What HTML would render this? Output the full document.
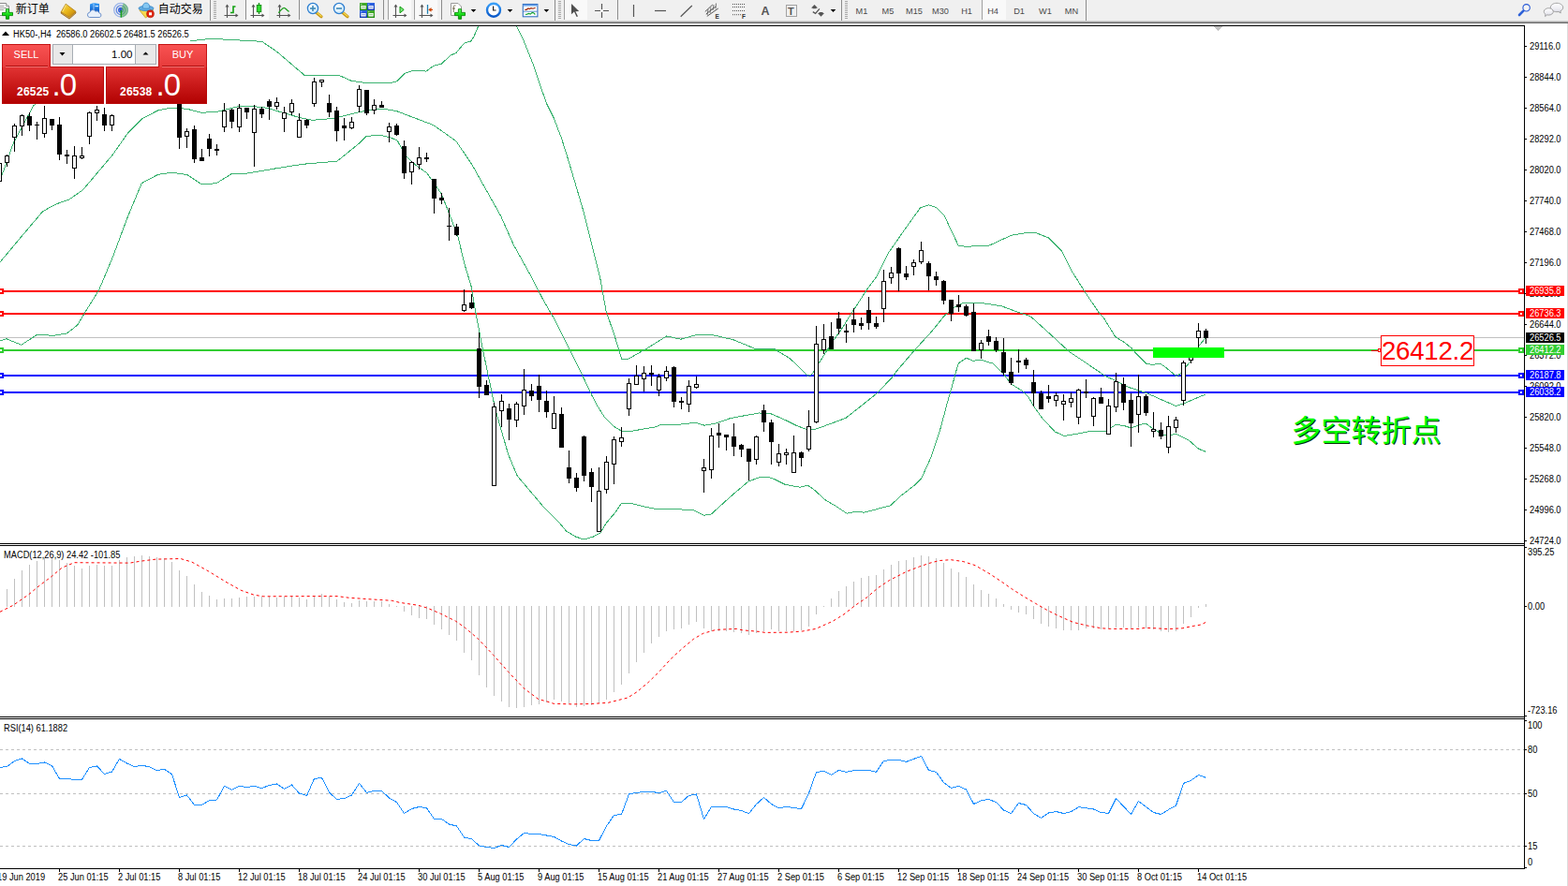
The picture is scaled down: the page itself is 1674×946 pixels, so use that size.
<!DOCTYPE html>
<html><head><meta charset="utf-8"><title>HK50-,H4</title>
<style>
html,body{margin:0;padding:0;background:#fff;}
body{width:1674px;height:946px;position:relative;overflow:hidden;font-family:"Liberation Sans",sans-serif;}
#tb{position:absolute;left:0;top:0;width:1674px;height:25px;background:#f0f0f0;}
#tb .g1,#tb .g2,#tb .g3{position:absolute;left:0;width:100%;height:1px;}
#tb .g1{top:22px;background:#d0d0d0} #tb .g2{top:23px;background:#a0a0a0} #tb .g3{top:24px;background:#696969}
#rb{position:absolute;left:1673px;top:25px;width:1px;height:921px;background:#dcdcdc}
</style></head><body>
<svg width="1674" height="946" viewBox="0 0 1674 946" style="position:absolute;left:0;top:0"><g shape-rendering="crispEdges"><rect x="0" y="310" width="1627" height="2" fill="#ff0000"/><rect x="0" y="334" width="1627" height="2" fill="#ff0000"/><rect x="0" y="360" width="1627" height="1" fill="#c0c0c0"/><rect x="0" y="373" width="1627" height="2" fill="#32cd32"/><rect x="0" y="400" width="1627" height="2" fill="#0000ff"/><rect x="0" y="418" width="1627" height="2" fill="#0000ff"/><polyline points="0.0,192.8 14.3,152.8 35.7,112.9 60.0,95.0 100.0,75.0 150.0,55.0 190.0,46.0 204.2,43.7 225.0,41.3 279.7,44.3 296.0,55.5 325.5,80.7 327.6,80.0 361.0,80.0 375.6,86.5 391.3,88.5 400.0,88.6 418.6,88.2 423.7,86.9 432.1,78.4 438.9,76.0 450.7,75.4 455.0,76.2 462.6,70.3 471.0,68.3 481.2,59.0 487.1,56.4 495.5,46.3 503.1,43.8 506.5,37.8 510.8,27.7" fill="none" stroke="#3cb371" stroke-width="1" /><polyline points="551.3,27.7 558.9,42.9 569.1,68.3 577.5,93.6 584.3,112.2 591.1,125.8 599.5,147.7 606.5,170.0 623.0,225.8 640.7,296.8 647.1,332.3 655.9,357.7 663.5,383.0 671.2,383.0 691.4,371.6 711.7,358.9 726.9,362.2 744.7,357.2 758.7,357.2 782.7,362.7 805.6,372.1 825.9,372.1 843.6,383.0 862.6,401.3 866.8,399.7 873.6,388.7 888.8,365.0 900.0,349.2 905.8,339.6 925.2,309.7 936.0,295.3 948.5,270.1 964.7,246.7 982.7,221.6 991.7,218.9 998.9,221.2 1007.9,229.7 1015.0,244.9 1023.1,262.0 1031.2,263.3 1056.4,262.0 1079.8,251.2 1097.7,248.2 1106.7,248.9 1119.3,253.9 1133.7,268.3 1144.5,289.9 1157.0,309.7 1173.2,333.9 1178.7,340.0 1190.6,359.5 1200.1,365.4 1208.6,372.2 1212.0,376.4 1223.8,388.3 1229.7,389.4 1239.0,388.3 1245.8,393.3 1256.0,401.8 1261.0,398.4 1266.1,391.6 1271.2,385.7 1279.6,369.7 1286.7,361.2" fill="none" stroke="#3cb371" stroke-width="1" /><polyline points="0.0,279.9 22.8,252.7 45.7,225.6 60.0,217.9 74.2,212.8 88.5,202.8 119.9,165.7 137.0,141.4 151.3,127.1 168.4,118.0 182.7,115.1 199.8,116.3 215.2,120.3 231.0,119.4 239.5,117.4 254.7,113.7 279.6,114.1 287.5,116.1 303.3,120.7 319.0,125.3 333.5,128.3 355.9,126.4 382.1,120.0 395.0,117.3 410.0,116.2 424.0,118.8 443.8,126.4 462.4,133.4 486.9,150.6 504.3,176.4 519.5,203.7 534.7,230.7 548.2,261.2 565.1,291.6 580.0,320.3 591.4,340.0 607.5,372.3 620.7,398.5 631.4,421.2 636.8,431.8 645.3,445.4 655.0,455.0 663.9,460.6 674.0,460.3 700.0,455.8 705.9,453.2 725.6,453.2 742.4,451.3 752.2,454.2 763.1,452.2 778.9,446.9 794.6,443.8 810.4,441.0 822.2,441.4 838.0,448.3 849.8,454.2 861.6,458.7 869.5,458.7 887.3,452.2 903.0,446.3 916.8,435.5 936.5,419.7 953.3,402.0 956.5,397.1 976.8,373.4 995.4,353.1 1007.9,337.5 1019.5,327.6 1027.6,323.7 1049.2,323.7 1069.0,326.7 1087.0,333.4 1099.5,337.5 1102.6,340.0 1119.5,355.2 1141.5,375.5 1161.8,389.1 1180.4,401.8 1190.0,406.0 1205.2,413.6 1223.8,419.5 1239.0,426.3 1255.1,433.4 1262.7,431.4 1274.5,426.3 1286.7,421.2" fill="none" stroke="#3cb371" stroke-width="1" /><polyline points="0.0,364.0 7.0,361.8 22.8,368.3 40.0,357.0 57.0,358.4 71.4,356.0 82.8,347.0 91.3,332.7 105.6,309.8 119.9,275.6 137.0,229.9 151.3,195.6 168.4,186.5 182.7,184.2 199.8,186.5 215.5,197.0 231.2,195.6 247.4,185.5 263.9,185.1 294.1,179.9 323.0,175.3 359.8,172.2 382.1,154.2 391.3,145.3 406.6,144.4 416.0,146.7 424.0,149.7 429.3,159.5 434.0,167.1 443.8,176.4 455.5,184.5 462.0,193.5 471.3,207.0 480.6,230.7 489.0,252.7 495.8,281.5 503.4,306.8 507.6,332.2 509.0,340.0 515.5,373.5 521.5,402.1 527.5,430.8 530.2,442.0 542.9,486.0 552.2,508.0 579.3,540.1 595.4,556.2 604.7,567.2 614.8,573.1 623.3,576.0 633.4,573.1 641.0,568.9 647.0,558.7 657.1,546.9 663.6,537.3 673.2,537.3 687.6,541.0 700.0,543.3 739.4,544.3 751.3,550.2 759.1,549.2 778.9,531.1 798.6,514.3 810.4,509.8 818.3,509.0 826.2,511.4 838.0,517.3 853.8,520.2 862.6,518.3 869.5,523.2 881.4,534.0 893.2,540.9 904.0,548.2 912.9,546.3 922.7,547.2 936.5,543.5 950.3,540.0 962.2,529.1 976.0,518.3 983.9,510.4 993.7,488.7 1003.6,459.1 1011.5,429.6 1019.3,402.0 1020.0,398.8 1023.4,387.8 1031.8,382.2 1038.6,385.3 1047.6,384.3 1060.3,388.2 1070.5,398.4 1079.8,410.2 1090.8,417.0 1098.4,424.6 1104.3,434.8 1112.8,446.6 1126.3,461.0 1136.4,465.5 1148.3,463.5 1163.5,460.6 1180.4,460.6 1190.6,453.7 1199.1,454.2 1207.8,457.1 1215.4,453.9 1223.0,452.0 1230.6,457.6 1242.4,464.4 1249.2,465.2 1255.1,463.0 1269.5,470.3 1279.6,479.2 1286.7,482.1" fill="none" stroke="#3cb371" stroke-width="1" /><rect x="-1" y="172" width="1" height="23" fill="#000"/><rect x="-3" y="174" width="5" height="20" fill="#000"/><rect x="-2" y="175" width="3" height="18" fill="#fff"/><rect x="7" y="165" width="1" height="13" fill="#000"/><rect x="5" y="166" width="5" height="8" fill="#000"/><rect x="6" y="167" width="3" height="6" fill="#fff"/><rect x="15" y="132" width="1" height="30" fill="#000"/><rect x="13" y="134" width="5" height="13" fill="#000"/><rect x="14" y="135" width="3" height="11" fill="#fff"/><rect x="23" y="122" width="1" height="23" fill="#000"/><rect x="21" y="123" width="5" height="12" fill="#000"/><rect x="22" y="124" width="3" height="10" fill="#fff"/><rect x="31" y="120" width="1" height="20" fill="#000"/><rect x="29" y="124" width="5" height="10" fill="#000"/><rect x="39" y="130" width="1" height="19" fill="#000"/><rect x="37" y="133" width="5" height="1" fill="#000"/><rect x="47" y="113" width="1" height="34" fill="#000"/><rect x="45" y="126" width="5" height="17" fill="#000"/><rect x="46" y="127" width="3" height="15" fill="#fff"/><rect x="55" y="127" width="1" height="12" fill="#000"/><rect x="53" y="127" width="5" height="7" fill="#000"/><rect x="63" y="125" width="1" height="46" fill="#000"/><rect x="61" y="133" width="5" height="32" fill="#000"/><rect x="71" y="160" width="1" height="15" fill="#000"/><rect x="69" y="165" width="5" height="2" fill="#000"/><rect x="79" y="156" width="1" height="35" fill="#000"/><rect x="77" y="166" width="5" height="14" fill="#000"/><rect x="78" y="167" width="3" height="12" fill="#fff"/><rect x="87" y="157" width="1" height="13" fill="#000"/><rect x="85" y="166" width="5" height="3" fill="#000"/><rect x="86" y="167" width="3" height="1" fill="#fff"/><rect x="95" y="119" width="1" height="35" fill="#000"/><rect x="93" y="120" width="5" height="26" fill="#000"/><rect x="94" y="121" width="3" height="24" fill="#fff"/><rect x="103" y="113" width="1" height="16" fill="#000"/><rect x="101" y="117" width="5" height="4" fill="#000"/><rect x="102" y="118" width="3" height="2" fill="#fff"/><rect x="111" y="115" width="1" height="25" fill="#000"/><rect x="109" y="122" width="5" height="12" fill="#000"/><rect x="119" y="122" width="1" height="18" fill="#000"/><rect x="117" y="123" width="5" height="11" fill="#000"/><rect x="118" y="124" width="3" height="9" fill="#fff"/><rect x="191" y="104" width="1" height="55" fill="#000"/><rect x="189" y="107" width="5" height="40" fill="#000"/><rect x="199" y="137" width="1" height="21" fill="#000"/><rect x="197" y="140" width="5" height="6" fill="#000"/><rect x="198" y="141" width="3" height="4" fill="#fff"/><rect x="207" y="134" width="1" height="40" fill="#000"/><rect x="205" y="138" width="5" height="32" fill="#000"/><rect x="215" y="159" width="1" height="13" fill="#000"/><rect x="213" y="168" width="5" height="4" fill="#000"/><rect x="223" y="143" width="1" height="24" fill="#000"/><rect x="221" y="148" width="5" height="11" fill="#000"/><rect x="231" y="154" width="1" height="12" fill="#000"/><rect x="229" y="159" width="5" height="2" fill="#000"/><rect x="239" y="110" width="1" height="31" fill="#000"/><rect x="237" y="118" width="5" height="18" fill="#000"/><rect x="238" y="119" width="3" height="16" fill="#fff"/><rect x="247" y="116" width="1" height="21" fill="#000"/><rect x="245" y="117" width="5" height="13" fill="#000"/><rect x="255" y="111" width="1" height="30" fill="#000"/><rect x="253" y="115" width="5" height="21" fill="#000"/><rect x="254" y="116" width="3" height="19" fill="#fff"/><rect x="263" y="115" width="1" height="12" fill="#000"/><rect x="261" y="115" width="5" height="5" fill="#000"/><rect x="271" y="112" width="1" height="66" fill="#000"/><rect x="269" y="116" width="5" height="26" fill="#000"/><rect x="270" y="117" width="3" height="24" fill="#fff"/><rect x="279" y="114" width="1" height="12" fill="#000"/><rect x="277" y="116" width="5" height="6" fill="#000"/><rect x="287" y="106" width="1" height="22" fill="#000"/><rect x="285" y="108" width="5" height="6" fill="#000"/><rect x="295" y="104" width="1" height="13" fill="#000"/><rect x="293" y="109" width="5" height="5" fill="#000"/><rect x="294" y="110" width="3" height="3" fill="#fff"/><rect x="303" y="114" width="1" height="27" fill="#000"/><rect x="301" y="120" width="5" height="7" fill="#000"/><rect x="302" y="121" width="3" height="5" fill="#fff"/><rect x="311" y="106" width="1" height="17" fill="#000"/><rect x="309" y="110" width="5" height="10" fill="#000"/><rect x="310" y="111" width="3" height="8" fill="#fff"/><rect x="319" y="121" width="1" height="26" fill="#000"/><rect x="317" y="128" width="5" height="19" fill="#000"/><rect x="318" y="129" width="3" height="17" fill="#fff"/><rect x="327" y="127" width="1" height="10" fill="#000"/><rect x="325" y="128" width="5" height="6" fill="#000"/><rect x="335" y="83" width="1" height="31" fill="#000"/><rect x="333" y="87" width="5" height="24" fill="#000"/><rect x="334" y="88" width="3" height="22" fill="#fff"/><rect x="343" y="85" width="1" height="8" fill="#000"/><rect x="341" y="85" width="5" height="3" fill="#000"/><rect x="342" y="86" width="3" height="1" fill="#fff"/><rect x="351" y="101" width="1" height="24" fill="#000"/><rect x="349" y="110" width="5" height="10" fill="#000"/><rect x="359" y="114" width="1" height="37" fill="#000"/><rect x="357" y="118" width="5" height="22" fill="#000"/><rect x="367" y="126" width="1" height="24" fill="#000"/><rect x="365" y="134" width="5" height="3" fill="#000"/><rect x="375" y="125" width="1" height="13" fill="#000"/><rect x="373" y="130" width="5" height="7" fill="#000"/><rect x="374" y="131" width="3" height="5" fill="#fff"/><rect x="383" y="91" width="1" height="29" fill="#000"/><rect x="381" y="95" width="5" height="19" fill="#000"/><rect x="382" y="96" width="3" height="17" fill="#fff"/><rect x="391" y="96" width="1" height="27" fill="#000"/><rect x="389" y="96" width="5" height="25" fill="#000"/><rect x="399" y="106" width="1" height="16" fill="#000"/><rect x="397" y="112" width="5" height="6" fill="#000"/><rect x="398" y="113" width="3" height="4" fill="#fff"/><rect x="407" y="108" width="1" height="7" fill="#000"/><rect x="405" y="112" width="5" height="3" fill="#000"/><rect x="415" y="131" width="1" height="21" fill="#000"/><rect x="413" y="135" width="5" height="6" fill="#000"/><rect x="414" y="136" width="3" height="4" fill="#fff"/><rect x="423" y="132" width="1" height="13" fill="#000"/><rect x="421" y="134" width="5" height="10" fill="#000"/><rect x="431" y="150" width="1" height="41" fill="#000"/><rect x="429" y="156" width="5" height="29" fill="#000"/><rect x="439" y="172" width="1" height="25" fill="#000"/><rect x="437" y="173" width="5" height="11" fill="#000"/><rect x="438" y="174" width="3" height="9" fill="#fff"/><rect x="447" y="157" width="1" height="24" fill="#000"/><rect x="445" y="168" width="5" height="8" fill="#000"/><rect x="446" y="169" width="3" height="6" fill="#fff"/><rect x="455" y="163" width="1" height="10" fill="#000"/><rect x="453" y="168" width="5" height="2" fill="#000"/><rect x="463" y="191" width="1" height="37" fill="#000"/><rect x="461" y="191" width="5" height="21" fill="#000"/><rect x="471" y="206" width="1" height="12" fill="#000"/><rect x="469" y="211" width="5" height="3" fill="#000"/><rect x="479" y="222" width="1" height="35" fill="#000"/><rect x="477" y="241" width="5" height="1" fill="#000"/><rect x="487" y="239" width="1" height="13" fill="#000"/><rect x="485" y="242" width="5" height="9" fill="#000"/><rect x="495" y="309" width="1" height="24" fill="#000"/><rect x="493" y="325" width="5" height="7" fill="#000"/><rect x="494" y="326" width="3" height="5" fill="#fff"/><rect x="503" y="314" width="1" height="16" fill="#000"/><rect x="501" y="323" width="5" height="6" fill="#000"/><rect x="511" y="355" width="1" height="70" fill="#000"/><rect x="509" y="372" width="5" height="41" fill="#000"/><rect x="519" y="406" width="1" height="16" fill="#000"/><rect x="517" y="411" width="5" height="11" fill="#000"/><rect x="527" y="430" width="1" height="89" fill="#000"/><rect x="525" y="434" width="5" height="85" fill="#000"/><rect x="526" y="435" width="3" height="83" fill="#fff"/><rect x="535" y="421" width="1" height="35" fill="#000"/><rect x="533" y="428" width="5" height="11" fill="#000"/><rect x="534" y="429" width="3" height="9" fill="#fff"/><rect x="543" y="431" width="1" height="39" fill="#000"/><rect x="541" y="436" width="5" height="12" fill="#000"/><rect x="551" y="429" width="1" height="27" fill="#000"/><rect x="549" y="431" width="5" height="18" fill="#000"/><rect x="550" y="432" width="3" height="16" fill="#fff"/><rect x="559" y="394" width="1" height="49" fill="#000"/><rect x="557" y="416" width="5" height="18" fill="#000"/><rect x="558" y="417" width="3" height="16" fill="#fff"/><rect x="567" y="410" width="1" height="18" fill="#000"/><rect x="565" y="417" width="5" height="6" fill="#000"/><rect x="575" y="400" width="1" height="40" fill="#000"/><rect x="573" y="412" width="5" height="15" fill="#000"/><rect x="583" y="417" width="1" height="29" fill="#000"/><rect x="581" y="428" width="5" height="12" fill="#000"/><rect x="591" y="423" width="1" height="35" fill="#000"/><rect x="589" y="441" width="5" height="17" fill="#000"/><rect x="590" y="442" width="3" height="15" fill="#fff"/><rect x="599" y="435" width="1" height="43" fill="#000"/><rect x="597" y="442" width="5" height="36" fill="#000"/><rect x="607" y="481" width="1" height="35" fill="#000"/><rect x="605" y="499" width="5" height="12" fill="#000"/><rect x="615" y="505" width="1" height="20" fill="#000"/><rect x="613" y="510" width="5" height="11" fill="#000"/><rect x="623" y="465" width="1" height="49" fill="#000"/><rect x="621" y="466" width="5" height="42" fill="#000"/><rect x="631" y="500" width="1" height="36" fill="#000"/><rect x="629" y="504" width="5" height="16" fill="#000"/><rect x="639" y="499" width="1" height="69" fill="#000"/><rect x="637" y="524" width="5" height="44" fill="#000"/><rect x="638" y="525" width="3" height="42" fill="#fff"/><rect x="647" y="487" width="1" height="40" fill="#000"/><rect x="645" y="493" width="5" height="30" fill="#000"/><rect x="646" y="494" width="3" height="28" fill="#fff"/><rect x="655" y="466" width="1" height="51" fill="#000"/><rect x="653" y="469" width="5" height="27" fill="#000"/><rect x="654" y="470" width="3" height="25" fill="#fff"/><rect x="663" y="456" width="1" height="21" fill="#000"/><rect x="661" y="467" width="5" height="5" fill="#000"/><rect x="662" y="468" width="3" height="3" fill="#fff"/><rect x="671" y="404" width="1" height="40" fill="#000"/><rect x="669" y="409" width="5" height="28" fill="#000"/><rect x="670" y="410" width="3" height="26" fill="#fff"/><rect x="679" y="390" width="1" height="21" fill="#000"/><rect x="677" y="401" width="5" height="10" fill="#000"/><rect x="678" y="402" width="3" height="8" fill="#fff"/><rect x="687" y="391" width="1" height="27" fill="#000"/><rect x="685" y="398" width="5" height="7" fill="#000"/><rect x="686" y="399" width="3" height="5" fill="#fff"/><rect x="695" y="390" width="1" height="22" fill="#000"/><rect x="693" y="398" width="5" height="2" fill="#000"/><rect x="703" y="399" width="1" height="24" fill="#000"/><rect x="701" y="402" width="5" height="15" fill="#000"/><rect x="702" y="403" width="3" height="13" fill="#fff"/><rect x="711" y="391" width="1" height="16" fill="#000"/><rect x="709" y="396" width="5" height="8" fill="#000"/><rect x="710" y="397" width="3" height="6" fill="#fff"/><rect x="719" y="391" width="1" height="44" fill="#000"/><rect x="717" y="392" width="5" height="37" fill="#000"/><rect x="727" y="424" width="1" height="13" fill="#000"/><rect x="725" y="428" width="5" height="2" fill="#000"/><rect x="735" y="406" width="1" height="34" fill="#000"/><rect x="733" y="412" width="5" height="20" fill="#000"/><rect x="734" y="413" width="3" height="18" fill="#fff"/><rect x="743" y="402" width="1" height="13" fill="#000"/><rect x="741" y="410" width="5" height="4" fill="#000"/><rect x="742" y="411" width="3" height="2" fill="#fff"/><rect x="751" y="490" width="1" height="36" fill="#000"/><rect x="749" y="499" width="5" height="4" fill="#000"/><rect x="750" y="500" width="3" height="2" fill="#fff"/><rect x="759" y="457" width="1" height="54" fill="#000"/><rect x="757" y="465" width="5" height="37" fill="#000"/><rect x="758" y="466" width="3" height="35" fill="#fff"/><rect x="767" y="452" width="1" height="26" fill="#000"/><rect x="765" y="462" width="5" height="3" fill="#000"/><rect x="775" y="464" width="1" height="17" fill="#000"/><rect x="773" y="464" width="5" height="3" fill="#000"/><rect x="783" y="452" width="1" height="35" fill="#000"/><rect x="781" y="466" width="5" height="11" fill="#000"/><rect x="791" y="474" width="1" height="14" fill="#000"/><rect x="789" y="475" width="5" height="5" fill="#000"/><rect x="799" y="479" width="1" height="34" fill="#000"/><rect x="797" y="479" width="5" height="14" fill="#000"/><rect x="807" y="465" width="1" height="31" fill="#000"/><rect x="805" y="466" width="5" height="25" fill="#000"/><rect x="806" y="467" width="3" height="23" fill="#fff"/><rect x="815" y="432" width="1" height="29" fill="#000"/><rect x="813" y="438" width="5" height="13" fill="#000"/><rect x="823" y="448" width="1" height="48" fill="#000"/><rect x="821" y="451" width="5" height="21" fill="#000"/><rect x="831" y="474" width="1" height="24" fill="#000"/><rect x="829" y="484" width="5" height="10" fill="#000"/><rect x="830" y="485" width="3" height="8" fill="#fff"/><rect x="839" y="479" width="1" height="17" fill="#000"/><rect x="837" y="483" width="5" height="3" fill="#000"/><rect x="838" y="484" width="3" height="1" fill="#fff"/><rect x="847" y="465" width="1" height="40" fill="#000"/><rect x="845" y="483" width="5" height="22" fill="#000"/><rect x="846" y="484" width="3" height="20" fill="#fff"/><rect x="855" y="482" width="1" height="16" fill="#000"/><rect x="853" y="483" width="5" height="6" fill="#000"/><rect x="863" y="438" width="1" height="44" fill="#000"/><rect x="861" y="455" width="5" height="25" fill="#000"/><rect x="862" y="456" width="3" height="23" fill="#fff"/><rect x="871" y="348" width="1" height="104" fill="#000"/><rect x="869" y="367" width="5" height="84" fill="#000"/><rect x="870" y="368" width="3" height="82" fill="#fff"/><rect x="879" y="346" width="1" height="32" fill="#000"/><rect x="877" y="362" width="5" height="12" fill="#000"/><rect x="878" y="363" width="3" height="10" fill="#fff"/><rect x="887" y="344" width="1" height="29" fill="#000"/><rect x="885" y="359" width="5" height="14" fill="#000"/><rect x="895" y="333" width="1" height="24" fill="#000"/><rect x="893" y="340" width="5" height="11" fill="#000"/><rect x="903" y="346" width="1" height="20" fill="#000"/><rect x="901" y="353" width="5" height="2" fill="#000"/><rect x="911" y="329" width="1" height="26" fill="#000"/><rect x="909" y="341" width="5" height="6" fill="#000"/><rect x="919" y="339" width="1" height="13" fill="#000"/><rect x="917" y="345" width="5" height="3" fill="#000"/><rect x="927" y="317" width="1" height="35" fill="#000"/><rect x="925" y="331" width="5" height="14" fill="#000"/><rect x="935" y="338" width="1" height="13" fill="#000"/><rect x="933" y="345" width="5" height="4" fill="#000"/><rect x="943" y="288" width="1" height="56" fill="#000"/><rect x="941" y="300" width="5" height="30" fill="#000"/><rect x="942" y="301" width="3" height="28" fill="#fff"/><rect x="951" y="285" width="1" height="18" fill="#000"/><rect x="949" y="291" width="5" height="6" fill="#000"/><rect x="950" y="292" width="3" height="4" fill="#fff"/><rect x="959" y="264" width="1" height="47" fill="#000"/><rect x="957" y="265" width="5" height="27" fill="#000"/><rect x="967" y="284" width="1" height="15" fill="#000"/><rect x="965" y="292" width="5" height="4" fill="#000"/><rect x="975" y="277" width="1" height="17" fill="#000"/><rect x="973" y="280" width="5" height="5" fill="#000"/><rect x="974" y="281" width="3" height="3" fill="#fff"/><rect x="983" y="258" width="1" height="24" fill="#000"/><rect x="981" y="267" width="5" height="13" fill="#000"/><rect x="982" y="268" width="3" height="11" fill="#fff"/><rect x="991" y="279" width="1" height="31" fill="#000"/><rect x="989" y="281" width="5" height="14" fill="#000"/><rect x="999" y="290" width="1" height="15" fill="#000"/><rect x="997" y="295" width="5" height="4" fill="#000"/><rect x="1007" y="299" width="1" height="26" fill="#000"/><rect x="1005" y="300" width="5" height="21" fill="#000"/><rect x="1015" y="320" width="1" height="23" fill="#000"/><rect x="1013" y="320" width="5" height="15" fill="#000"/><rect x="1023" y="315" width="1" height="18" fill="#000"/><rect x="1021" y="325" width="5" height="3" fill="#000"/><rect x="1031" y="325" width="1" height="13" fill="#000"/><rect x="1029" y="327" width="5" height="10" fill="#000"/><rect x="1039" y="324" width="1" height="51" fill="#000"/><rect x="1037" y="333" width="5" height="42" fill="#000"/><rect x="1047" y="363" width="1" height="20" fill="#000"/><rect x="1045" y="366" width="5" height="8" fill="#000"/><rect x="1046" y="367" width="3" height="6" fill="#fff"/><rect x="1055" y="352" width="1" height="17" fill="#000"/><rect x="1053" y="359" width="5" height="6" fill="#000"/><rect x="1063" y="360" width="1" height="16" fill="#000"/><rect x="1061" y="364" width="5" height="10" fill="#000"/><rect x="1071" y="361" width="1" height="40" fill="#000"/><rect x="1069" y="376" width="5" height="22" fill="#000"/><rect x="1079" y="382" width="1" height="29" fill="#000"/><rect x="1077" y="397" width="5" height="12" fill="#000"/><rect x="1087" y="373" width="1" height="25" fill="#000"/><rect x="1085" y="385" width="5" height="2" fill="#000"/><rect x="1095" y="382" width="1" height="12" fill="#000"/><rect x="1093" y="384" width="5" height="6" fill="#000"/><rect x="1103" y="395" width="1" height="39" fill="#000"/><rect x="1101" y="408" width="5" height="12" fill="#000"/><rect x="1111" y="417" width="1" height="20" fill="#000"/><rect x="1109" y="420" width="5" height="17" fill="#000"/><rect x="1119" y="411" width="1" height="19" fill="#000"/><rect x="1117" y="423" width="5" height="3" fill="#000"/><rect x="1127" y="419" width="1" height="15" fill="#000"/><rect x="1125" y="422" width="5" height="6" fill="#000"/><rect x="1126" y="423" width="3" height="4" fill="#fff"/><rect x="1135" y="421" width="1" height="28" fill="#000"/><rect x="1133" y="428" width="5" height="4" fill="#000"/><rect x="1134" y="429" width="3" height="2" fill="#fff"/><rect x="1143" y="419" width="1" height="16" fill="#000"/><rect x="1141" y="425" width="5" height="5" fill="#000"/><rect x="1142" y="426" width="3" height="3" fill="#fff"/><rect x="1151" y="415" width="1" height="38" fill="#000"/><rect x="1149" y="416" width="5" height="30" fill="#000"/><rect x="1150" y="417" width="3" height="28" fill="#fff"/><rect x="1159" y="405" width="1" height="20" fill="#000"/><rect x="1157" y="418" width="5" height="2" fill="#000"/><rect x="1167" y="424" width="1" height="31" fill="#000"/><rect x="1165" y="425" width="5" height="20" fill="#000"/><rect x="1166" y="426" width="3" height="18" fill="#fff"/><rect x="1175" y="414" width="1" height="17" fill="#000"/><rect x="1173" y="424" width="5" height="7" fill="#000"/><rect x="1183" y="426" width="1" height="38" fill="#000"/><rect x="1181" y="433" width="5" height="31" fill="#000"/><rect x="1182" y="434" width="3" height="29" fill="#fff"/><rect x="1191" y="398" width="1" height="42" fill="#000"/><rect x="1189" y="407" width="5" height="28" fill="#000"/><rect x="1190" y="408" width="3" height="26" fill="#fff"/><rect x="1199" y="403" width="1" height="35" fill="#000"/><rect x="1197" y="410" width="5" height="20" fill="#000"/><rect x="1207" y="420" width="1" height="57" fill="#000"/><rect x="1205" y="427" width="5" height="25" fill="#000"/><rect x="1215" y="400" width="1" height="62" fill="#000"/><rect x="1213" y="423" width="5" height="20" fill="#000"/><rect x="1214" y="424" width="3" height="18" fill="#fff"/><rect x="1223" y="421" width="1" height="23" fill="#000"/><rect x="1221" y="423" width="5" height="18" fill="#000"/><rect x="1231" y="440" width="1" height="27" fill="#000"/><rect x="1229" y="458" width="5" height="3" fill="#000"/><rect x="1230" y="459" width="3" height="1" fill="#fff"/><rect x="1239" y="451" width="1" height="18" fill="#000"/><rect x="1237" y="459" width="5" height="7" fill="#000"/><rect x="1247" y="444" width="1" height="40" fill="#000"/><rect x="1245" y="455" width="5" height="23" fill="#000"/><rect x="1246" y="456" width="3" height="21" fill="#fff"/><rect x="1255" y="445" width="1" height="17" fill="#000"/><rect x="1253" y="448" width="5" height="9" fill="#000"/><rect x="1254" y="449" width="3" height="7" fill="#fff"/><rect x="1263" y="385" width="1" height="48" fill="#000"/><rect x="1261" y="387" width="5" height="41" fill="#000"/><rect x="1262" y="388" width="3" height="39" fill="#fff"/><rect x="1271" y="374" width="1" height="14" fill="#000"/><rect x="1269" y="378" width="5" height="7" fill="#000"/><rect x="1270" y="379" width="3" height="5" fill="#fff"/><rect x="1279" y="345" width="1" height="27" fill="#000"/><rect x="1277" y="353" width="5" height="8" fill="#000"/><rect x="1278" y="354" width="3" height="6" fill="#fff"/><rect x="1287" y="351" width="1" height="16" fill="#000"/><rect x="1285" y="353" width="5" height="8" fill="#000"/><rect x="1231" y="371" width="76" height="11" fill="#00ff00"/><rect x="-2" y="308" width="6" height="6" fill="#ff0000"/><rect x="0" y="310" width="2" height="2" fill="#fff"/><rect x="1621" y="308" width="6" height="6" fill="#ff0000"/><rect x="1623" y="310" width="2" height="2" fill="#fff"/><rect x="-2" y="332" width="6" height="6" fill="#ff0000"/><rect x="0" y="334" width="2" height="2" fill="#fff"/><rect x="1621" y="332" width="6" height="6" fill="#ff0000"/><rect x="1623" y="334" width="2" height="2" fill="#fff"/><rect x="-2" y="371" width="6" height="6" fill="#32cd32"/><rect x="0" y="373" width="2" height="2" fill="#fff"/><rect x="1621" y="371" width="6" height="6" fill="#32cd32"/><rect x="1623" y="373" width="2" height="2" fill="#fff"/><rect x="-2" y="398" width="6" height="6" fill="#0000ff"/><rect x="0" y="400" width="2" height="2" fill="#fff"/><rect x="1621" y="398" width="6" height="6" fill="#0000ff"/><rect x="1623" y="400" width="2" height="2" fill="#fff"/><rect x="-2" y="416" width="6" height="6" fill="#0000ff"/><rect x="0" y="418" width="2" height="2" fill="#fff"/><rect x="1621" y="416" width="6" height="6" fill="#0000ff"/><rect x="1623" y="418" width="2" height="2" fill="#fff"/><polygon points="1295,28 1305,28 1300,33" fill="#c0c0c0"/><rect x="7" y="629" width="1" height="19" fill="#c0c0c0"/><rect x="15" y="618" width="1" height="30" fill="#c0c0c0"/><rect x="23" y="609" width="1" height="39" fill="#c0c0c0"/><rect x="31" y="603" width="1" height="45" fill="#c0c0c0"/><rect x="39" y="599" width="1" height="49" fill="#c0c0c0"/><rect x="47" y="596" width="1" height="52" fill="#c0c0c0"/><rect x="55" y="595" width="1" height="53" fill="#c0c0c0"/><rect x="63" y="598" width="1" height="50" fill="#c0c0c0"/><rect x="71" y="601" width="1" height="47" fill="#c0c0c0"/><rect x="79" y="604" width="1" height="44" fill="#c0c0c0"/><rect x="87" y="607" width="1" height="41" fill="#c0c0c0"/><rect x="95" y="604" width="1" height="44" fill="#c0c0c0"/><rect x="103" y="603" width="1" height="45" fill="#c0c0c0"/><rect x="111" y="604" width="1" height="44" fill="#c0c0c0"/><rect x="119" y="604" width="1" height="44" fill="#c0c0c0"/><rect x="127" y="598" width="1" height="50" fill="#c0c0c0"/><rect x="135" y="595" width="1" height="53" fill="#c0c0c0"/><rect x="143" y="594" width="1" height="54" fill="#c0c0c0"/><rect x="151" y="593" width="1" height="55" fill="#c0c0c0"/><rect x="159" y="594" width="1" height="54" fill="#c0c0c0"/><rect x="167" y="595" width="1" height="53" fill="#c0c0c0"/><rect x="175" y="596" width="1" height="52" fill="#c0c0c0"/><rect x="183" y="600" width="1" height="48" fill="#c0c0c0"/><rect x="191" y="609" width="1" height="39" fill="#c0c0c0"/><rect x="199" y="615" width="1" height="33" fill="#c0c0c0"/><rect x="207" y="624" width="1" height="24" fill="#c0c0c0"/><rect x="215" y="632" width="1" height="16" fill="#c0c0c0"/><rect x="223" y="636" width="1" height="12" fill="#c0c0c0"/><rect x="231" y="640" width="1" height="8" fill="#c0c0c0"/><rect x="239" y="639" width="1" height="9" fill="#c0c0c0"/><rect x="247" y="639" width="1" height="9" fill="#c0c0c0"/><rect x="255" y="638" width="1" height="10" fill="#c0c0c0"/><rect x="263" y="637" width="1" height="11" fill="#c0c0c0"/><rect x="271" y="637" width="1" height="11" fill="#c0c0c0"/><rect x="279" y="637" width="1" height="11" fill="#c0c0c0"/><rect x="287" y="637" width="1" height="11" fill="#c0c0c0"/><rect x="295" y="638" width="1" height="10" fill="#c0c0c0"/><rect x="303" y="637" width="1" height="11" fill="#c0c0c0"/><rect x="311" y="637" width="1" height="11" fill="#c0c0c0"/><rect x="319" y="638" width="1" height="10" fill="#c0c0c0"/><rect x="327" y="640" width="1" height="8" fill="#c0c0c0"/><rect x="335" y="637" width="1" height="11" fill="#c0c0c0"/><rect x="343" y="634" width="1" height="14" fill="#c0c0c0"/><rect x="351" y="637" width="1" height="11" fill="#c0c0c0"/><rect x="359" y="640" width="1" height="8" fill="#c0c0c0"/><rect x="367" y="643" width="1" height="5" fill="#c0c0c0"/><rect x="375" y="644" width="1" height="4" fill="#c0c0c0"/><rect x="383" y="641" width="1" height="7" fill="#c0c0c0"/><rect x="391" y="642" width="1" height="6" fill="#c0c0c0"/><rect x="399" y="642" width="1" height="6" fill="#c0c0c0"/><rect x="407" y="642" width="1" height="6" fill="#c0c0c0"/><rect x="415" y="645" width="1" height="3" fill="#c0c0c0"/><rect x="423" y="647" width="1" height="1" fill="#c0c0c0"/><rect x="431" y="647" width="1" height="6" fill="#c0c0c0"/><rect x="439" y="647" width="1" height="10" fill="#c0c0c0"/><rect x="447" y="647" width="1" height="13" fill="#c0c0c0"/><rect x="455" y="647" width="1" height="14" fill="#c0c0c0"/><rect x="463" y="647" width="1" height="20" fill="#c0c0c0"/><rect x="471" y="647" width="1" height="25" fill="#c0c0c0"/><rect x="479" y="647" width="1" height="31" fill="#c0c0c0"/><rect x="487" y="647" width="1" height="37" fill="#c0c0c0"/><rect x="495" y="647" width="1" height="50" fill="#c0c0c0"/><rect x="503" y="647" width="1" height="58" fill="#c0c0c0"/><rect x="511" y="647" width="1" height="74" fill="#c0c0c0"/><rect x="519" y="647" width="1" height="87" fill="#c0c0c0"/><rect x="527" y="647" width="1" height="96" fill="#c0c0c0"/><rect x="535" y="647" width="1" height="102" fill="#c0c0c0"/><rect x="543" y="647" width="1" height="108" fill="#c0c0c0"/><rect x="551" y="647" width="1" height="109" fill="#c0c0c0"/><rect x="559" y="647" width="1" height="108" fill="#c0c0c0"/><rect x="567" y="647" width="1" height="106" fill="#c0c0c0"/><rect x="575" y="647" width="1" height="105" fill="#c0c0c0"/><rect x="583" y="647" width="1" height="103" fill="#c0c0c0"/><rect x="591" y="647" width="1" height="100" fill="#c0c0c0"/><rect x="599" y="647" width="1" height="102" fill="#c0c0c0"/><rect x="607" y="647" width="1" height="104" fill="#c0c0c0"/><rect x="615" y="647" width="1" height="108" fill="#c0c0c0"/><rect x="623" y="647" width="1" height="107" fill="#c0c0c0"/><rect x="631" y="647" width="1" height="106" fill="#c0c0c0"/><rect x="639" y="647" width="1" height="104" fill="#c0c0c0"/><rect x="647" y="647" width="1" height="100" fill="#c0c0c0"/><rect x="655" y="647" width="1" height="92" fill="#c0c0c0"/><rect x="663" y="647" width="1" height="84" fill="#c0c0c0"/><rect x="671" y="647" width="1" height="72" fill="#c0c0c0"/><rect x="679" y="647" width="1" height="60" fill="#c0c0c0"/><rect x="687" y="647" width="1" height="50" fill="#c0c0c0"/><rect x="695" y="647" width="1" height="40" fill="#c0c0c0"/><rect x="703" y="647" width="1" height="33" fill="#c0c0c0"/><rect x="711" y="647" width="1" height="27" fill="#c0c0c0"/><rect x="719" y="647" width="1" height="25" fill="#c0c0c0"/><rect x="727" y="647" width="1" height="24" fill="#c0c0c0"/><rect x="735" y="647" width="1" height="20" fill="#c0c0c0"/><rect x="743" y="647" width="1" height="17" fill="#c0c0c0"/><rect x="751" y="647" width="1" height="24" fill="#c0c0c0"/><rect x="759" y="647" width="1" height="27" fill="#c0c0c0"/><rect x="767" y="647" width="1" height="27" fill="#c0c0c0"/><rect x="775" y="647" width="1" height="27" fill="#c0c0c0"/><rect x="783" y="647" width="1" height="28" fill="#c0c0c0"/><rect x="791" y="647" width="1" height="29" fill="#c0c0c0"/><rect x="799" y="647" width="1" height="31" fill="#c0c0c0"/><rect x="807" y="647" width="1" height="29" fill="#c0c0c0"/><rect x="815" y="647" width="1" height="27" fill="#c0c0c0"/><rect x="823" y="647" width="1" height="25" fill="#c0c0c0"/><rect x="831" y="647" width="1" height="27" fill="#c0c0c0"/><rect x="839" y="647" width="1" height="27" fill="#c0c0c0"/><rect x="847" y="647" width="1" height="27" fill="#c0c0c0"/><rect x="855" y="647" width="1" height="26" fill="#c0c0c0"/><rect x="863" y="647" width="1" height="22" fill="#c0c0c0"/><rect x="871" y="647" width="1" height="9" fill="#c0c0c0"/><rect x="879" y="647" width="1" height="1" fill="#c0c0c0"/><rect x="887" y="639" width="1" height="9" fill="#c0c0c0"/><rect x="895" y="631" width="1" height="17" fill="#c0c0c0"/><rect x="903" y="626" width="1" height="22" fill="#c0c0c0"/><rect x="911" y="621" width="1" height="27" fill="#c0c0c0"/><rect x="919" y="617" width="1" height="31" fill="#c0c0c0"/><rect x="927" y="615" width="1" height="33" fill="#c0c0c0"/><rect x="935" y="614" width="1" height="34" fill="#c0c0c0"/><rect x="943" y="608" width="1" height="40" fill="#c0c0c0"/><rect x="951" y="603" width="1" height="45" fill="#c0c0c0"/><rect x="959" y="599" width="1" height="49" fill="#c0c0c0"/><rect x="967" y="598" width="1" height="50" fill="#c0c0c0"/><rect x="975" y="595" width="1" height="53" fill="#c0c0c0"/><rect x="983" y="593" width="1" height="55" fill="#c0c0c0"/><rect x="991" y="594" width="1" height="54" fill="#c0c0c0"/><rect x="999" y="596" width="1" height="52" fill="#c0c0c0"/><rect x="1007" y="601" width="1" height="47" fill="#c0c0c0"/><rect x="1015" y="607" width="1" height="41" fill="#c0c0c0"/><rect x="1023" y="611" width="1" height="37" fill="#c0c0c0"/><rect x="1031" y="616" width="1" height="32" fill="#c0c0c0"/><rect x="1039" y="624" width="1" height="24" fill="#c0c0c0"/><rect x="1047" y="630" width="1" height="18" fill="#c0c0c0"/><rect x="1055" y="634" width="1" height="14" fill="#c0c0c0"/><rect x="1063" y="639" width="1" height="9" fill="#c0c0c0"/><rect x="1071" y="645" width="1" height="3" fill="#c0c0c0"/><rect x="1079" y="647" width="1" height="4" fill="#c0c0c0"/><rect x="1087" y="647" width="1" height="7" fill="#c0c0c0"/><rect x="1095" y="647" width="1" height="9" fill="#c0c0c0"/><rect x="1103" y="647" width="1" height="14" fill="#c0c0c0"/><rect x="1111" y="647" width="1" height="19" fill="#c0c0c0"/><rect x="1119" y="647" width="1" height="22" fill="#c0c0c0"/><rect x="1127" y="647" width="1" height="24" fill="#c0c0c0"/><rect x="1135" y="647" width="1" height="26" fill="#c0c0c0"/><rect x="1143" y="647" width="1" height="26" fill="#c0c0c0"/><rect x="1151" y="647" width="1" height="26" fill="#c0c0c0"/><rect x="1159" y="647" width="1" height="24" fill="#c0c0c0"/><rect x="1167" y="647" width="1" height="24" fill="#c0c0c0"/><rect x="1175" y="647" width="1" height="25" fill="#c0c0c0"/><rect x="1183" y="647" width="1" height="24" fill="#c0c0c0"/><rect x="1191" y="647" width="1" height="23" fill="#c0c0c0"/><rect x="1199" y="647" width="1" height="23" fill="#c0c0c0"/><rect x="1207" y="647" width="1" height="24" fill="#c0c0c0"/><rect x="1215" y="647" width="1" height="23" fill="#c0c0c0"/><rect x="1223" y="647" width="1" height="24" fill="#c0c0c0"/><rect x="1231" y="647" width="1" height="25" fill="#c0c0c0"/><rect x="1239" y="647" width="1" height="27" fill="#c0c0c0"/><rect x="1247" y="647" width="1" height="28" fill="#c0c0c0"/><rect x="1255" y="647" width="1" height="27" fill="#c0c0c0"/><rect x="1263" y="647" width="1" height="19" fill="#c0c0c0"/><rect x="1271" y="647" width="1" height="12" fill="#c0c0c0"/><rect x="1279" y="647" width="1" height="2" fill="#c0c0c0"/><rect x="1287" y="645" width="1" height="3" fill="#c0c0c0"/><polyline points="0.0,653.3 14.0,646.3 30.1,635.2 42.2,625.2 54.2,616.2 66.3,606.1 79.3,600.7 138.6,601.1 150.6,599.1 166.7,597.1 192.8,596.5 204.9,600.1 222.9,610.1 241.0,621.2 257.1,630.2 271.1,635.2 281.2,636.8 335.0,636.6 360.1,636.6 372.2,638.2 390.3,639.5 418.4,641.3 426.4,643.3 446.5,646.3 456.5,649.3 470.6,655.3 486.7,663.3 496.7,670.4 510.8,682.4 526.8,699.5 542.9,717.6 559.0,734.6 567.0,740.7 575.0,746.7 583.1,748.7 591.1,751.3 611.2,751.9 631.3,751.5 649.3,750.3 659.4,747.7 670.0,745.1 680.1,738.7 692.1,728.6 704.2,716.6 716.2,703.5 728.3,692.5 740.3,682.4 750.4,676.4 764.4,672.4 786.5,671.4 792.6,672.8 810.6,674.4 816.7,675.4 840.8,675.2 856.8,674.0 870.9,671.4 889.0,663.3 901.0,655.9 913.1,646.3 925.1,638.2 937.2,627.8 949.2,619.8 967.3,610.5 981.3,605.1 993.0,601.1 1003.1,598.5 1015.1,597.7 1028.2,599.5 1041.2,603.7 1057.3,613.1 1069.4,621.2 1081.4,629.6 1093.5,637.2 1105.5,644.3 1117.6,651.3 1129.6,657.3 1145.7,664.4 1159.7,667.8 1175.8,670.8 1185.8,671.4 1216.0,671.4 1222.0,670.4 1234.0,670.8 1246.1,671.6 1262.2,670.8 1274.2,668.4 1282.2,667.0 1287.3,664.4" fill="none" stroke="#ff0000" stroke-width="1" stroke-dasharray="3 3" shape-rendering="geometricPrecision"/><line x1="0" y1="800.5" x2="1627" y2="800.5" stroke="#c0c0c0" stroke-width="1" stroke-dasharray="3 3"/><line x1="0" y1="847.5" x2="1627" y2="847.5" stroke="#c0c0c0" stroke-width="1" stroke-dasharray="3 3"/><line x1="0" y1="903.5" x2="1627" y2="903.5" stroke="#c0c0c0" stroke-width="1" stroke-dasharray="3 3"/><polyline points="-0.5,819.6 7.5,818.4 15.5,812.4 23.5,810.0 31.5,815.4 39.5,815.4 47.5,814.0 55.5,817.6 63.5,831.4 71.5,831.4 79.5,832.4 87.5,832.4 95.5,819.4 103.5,818.0 111.5,826.4 119.5,824.0 127.5,810.4 135.5,815.0 143.5,818.6 151.5,817.4 159.5,818.6 167.5,822.6 175.5,821.4 183.5,826.6 191.5,851.5 199.5,849.0 207.5,859.5 215.5,859.5 223.5,854.5 231.5,854.0 239.5,839.4 247.5,843.4 255.5,839.4 263.5,840.6 271.5,839.4 279.5,841.6 287.5,838.4 295.5,837.0 303.5,842.4 311.5,838.0 319.5,847.0 327.5,849.6 335.5,831.4 343.5,830.4 351.5,846.0 359.5,853.5 367.5,852.5 375.5,849.0 383.5,836.4 391.5,846.4 399.5,844.4 407.5,844.4 415.5,852.0 423.5,856.5 431.5,868.5 439.5,863.5 447.5,861.5 455.5,862.7 463.5,874.5 471.5,874.5 479.5,880.0 487.5,882.0 495.5,894.0 503.5,895.7 511.5,903.0 519.5,904.5 527.5,905.5 535.5,902.5 543.5,904.5 551.5,896.0 559.5,889.5 567.5,890.5 575.5,890.5 583.5,892.0 591.5,893.5 599.5,898.0 607.5,901.5 615.5,903.0 623.5,895.5 631.5,897.5 639.5,897.5 647.5,882.0 655.5,870.5 663.5,869.5 671.5,848.0 679.5,846.4 687.5,845.4 695.5,845.4 703.5,846.6 711.5,844.4 719.5,856.5 727.5,856.5 735.5,849.4 743.5,848.0 751.5,874.5 759.5,861.5 767.5,861.5 775.5,861.5 783.5,864.0 791.5,865.5 799.5,868.7 807.5,858.7 815.5,851.4 823.5,858.5 831.5,862.7 839.5,861.5 847.5,862.5 855.5,863.7 863.5,847.0 871.5,824.4 879.5,823.4 887.5,827.4 895.5,822.4 903.5,824.4 911.5,822.6 919.5,822.4 927.5,822.4 935.5,824.4 943.5,812.4 951.5,811.4 959.5,811.4 967.5,813.4 975.5,810.4 983.5,807.4 991.5,822.4 999.5,824.4 1007.5,835.4 1015.5,841.4 1023.5,839.4 1031.5,843.0 1039.5,858.5 1047.5,854.7 1055.5,853.5 1063.5,856.5 1071.5,865.0 1079.5,868.5 1087.5,857.5 1095.5,859.5 1103.5,868.5 1111.5,873.5 1119.5,868.0 1127.5,866.5 1135.5,868.5 1143.5,866.7 1151.5,861.7 1159.5,862.7 1167.5,864.0 1175.5,867.5 1183.5,868.5 1191.5,852.5 1199.5,861.0 1207.5,869.5 1215.5,855.5 1223.5,861.5 1231.5,867.5 1239.5,869.5 1247.5,864.5 1255.5,860.0 1263.5,836.4 1271.5,833.4 1279.5,827.4 1287.5,830.4" fill="none" stroke="#1e90ff" stroke-width="1" /><rect x="0" y="27" width="1628" height="1" fill="#000"/><rect x="1627" y="27" width="1" height="901" fill="#000"/><rect x="0" y="580" width="1628" height="1" fill="#000"/><rect x="0" y="582" width="1628" height="1" fill="#000"/><rect x="0" y="765" width="1628" height="1" fill="#000"/><rect x="0" y="767" width="1628" height="1" fill="#000"/><rect x="0" y="927" width="1628" height="1" fill="#000"/><rect x="0" y="581" width="1627" height="1" fill="#fff"/><rect x="0" y="766" width="1627" height="1" fill="#fff"/><rect x="1628" y="49" width="2" height="1" fill="#000"/><rect x="1628" y="82" width="2" height="1" fill="#000"/><rect x="1628" y="115" width="2" height="1" fill="#000"/><rect x="1628" y="148" width="2" height="1" fill="#000"/><rect x="1628" y="181" width="2" height="1" fill="#000"/><rect x="1628" y="214" width="2" height="1" fill="#000"/><rect x="1628" y="247" width="2" height="1" fill="#000"/><rect x="1628" y="280" width="2" height="1" fill="#000"/><rect x="1628" y="313" width="2" height="1" fill="#000"/><rect x="1628" y="346" width="2" height="1" fill="#000"/><rect x="1628" y="379" width="2" height="1" fill="#000"/><rect x="1628" y="412" width="2" height="1" fill="#000"/><rect x="1628" y="445" width="2" height="1" fill="#000"/><rect x="1628" y="478" width="2" height="1" fill="#000"/><rect x="1628" y="511" width="2" height="1" fill="#000"/><rect x="1628" y="544" width="2" height="1" fill="#000"/><rect x="1628" y="577" width="2" height="1" fill="#000"/><rect x="1628" y="584" width="2" height="1" fill="#000"/><rect x="1628" y="647" width="2" height="1" fill="#000"/><rect x="1628" y="764" width="2" height="1" fill="#000"/><rect x="1628" y="769" width="2" height="1" fill="#000"/><rect x="1628" y="800" width="2" height="1" fill="#000"/><rect x="1628" y="847" width="2" height="1" fill="#000"/><rect x="1628" y="903" width="2" height="1" fill="#000"/><rect x="1628" y="926" width="2" height="1" fill="#000"/><rect x="63" y="927" width="1" height="4" fill="#000"/><rect x="127" y="927" width="1" height="4" fill="#000"/><rect x="191" y="927" width="1" height="4" fill="#000"/><rect x="255" y="927" width="1" height="4" fill="#000"/><rect x="319" y="927" width="1" height="4" fill="#000"/><rect x="383" y="927" width="1" height="4" fill="#000"/><rect x="447" y="927" width="1" height="4" fill="#000"/><rect x="511" y="927" width="1" height="4" fill="#000"/><rect x="575" y="927" width="1" height="4" fill="#000"/><rect x="639" y="927" width="1" height="4" fill="#000"/><rect x="703" y="927" width="1" height="4" fill="#000"/><rect x="767" y="927" width="1" height="4" fill="#000"/><rect x="831" y="927" width="1" height="4" fill="#000"/><rect x="895" y="927" width="1" height="4" fill="#000"/><rect x="959" y="927" width="1" height="4" fill="#000"/><rect x="1023" y="927" width="1" height="4" fill="#000"/><rect x="1087" y="927" width="1" height="4" fill="#000"/><rect x="1151" y="927" width="1" height="4" fill="#000"/><rect x="1215" y="927" width="1" height="4" fill="#000"/><rect x="1279" y="927" width="1" height="4" fill="#000"/></g><g font-family="Liberation Sans, sans-serif"><text textLength="32.85" transform="translate(1633,52.5) scale(1,1.08)" font-size="9.3" fill="#000" text-anchor="start" font-weight="normal" >29116.0</text><text textLength="33.54" transform="translate(1633,85.5) scale(1,1.08)" font-size="9.3" fill="#000" text-anchor="start" font-weight="normal" >28844.0</text><text textLength="33.54" transform="translate(1633,118.5) scale(1,1.08)" font-size="9.3" fill="#000" text-anchor="start" font-weight="normal" >28564.0</text><text textLength="33.54" transform="translate(1633,151.5) scale(1,1.08)" font-size="9.3" fill="#000" text-anchor="start" font-weight="normal" >28292.0</text><text textLength="33.54" transform="translate(1633,184.5) scale(1,1.08)" font-size="9.3" fill="#000" text-anchor="start" font-weight="normal" >28020.0</text><text textLength="33.54" transform="translate(1633,217.5) scale(1,1.08)" font-size="9.3" fill="#000" text-anchor="start" font-weight="normal" >27740.0</text><text textLength="33.54" transform="translate(1633,250.5) scale(1,1.08)" font-size="9.3" fill="#000" text-anchor="start" font-weight="normal" >27468.0</text><text textLength="33.54" transform="translate(1633,283.5) scale(1,1.08)" font-size="9.3" fill="#000" text-anchor="start" font-weight="normal" >27196.0</text><text textLength="33.54" transform="translate(1633,316.5) scale(1,1.08)" font-size="9.3" fill="#000" text-anchor="start" font-weight="normal" >26916.0</text><text textLength="33.54" transform="translate(1633,349.5) scale(1,1.08)" font-size="9.3" fill="#000" text-anchor="start" font-weight="normal" >26644.0</text><text textLength="33.54" transform="translate(1633,382.5) scale(1,1.08)" font-size="9.3" fill="#000" text-anchor="start" font-weight="normal" >26372.0</text><text textLength="33.54" transform="translate(1633,415.5) scale(1,1.08)" font-size="9.3" fill="#000" text-anchor="start" font-weight="normal" >26092.0</text><text textLength="33.54" transform="translate(1633,448.5) scale(1,1.08)" font-size="9.3" fill="#000" text-anchor="start" font-weight="normal" >25820.0</text><text textLength="33.54" transform="translate(1633,481.5) scale(1,1.08)" font-size="9.3" fill="#000" text-anchor="start" font-weight="normal" >25548.0</text><text textLength="33.54" transform="translate(1633,514.5) scale(1,1.08)" font-size="9.3" fill="#000" text-anchor="start" font-weight="normal" >25268.0</text><text textLength="33.54" transform="translate(1633,547.5) scale(1,1.08)" font-size="9.3" fill="#000" text-anchor="start" font-weight="normal" >24996.0</text><text textLength="33.54" transform="translate(1633,580.5) scale(1,1.08)" font-size="9.3" fill="#000" text-anchor="start" font-weight="normal" >24724.0</text><text textLength="28.39" transform="translate(1631,593) scale(1,1.08)" font-size="9.3" fill="#000" text-anchor="start" font-weight="normal" >395.25</text><text textLength="18.06" transform="translate(1631,651) scale(1,1.08)" font-size="9.3" fill="#000" text-anchor="start" font-weight="normal" >0.00</text><text textLength="31.48" transform="translate(1631,762) scale(1,1.08)" font-size="9.3" fill="#000" text-anchor="start" font-weight="normal" >-723.16</text><text textLength="15.49" transform="translate(1631,778) scale(1,1.08)" font-size="9.3" fill="#000" text-anchor="start" font-weight="normal" >100</text><text textLength="10.33" transform="translate(1631,804) scale(1,1.08)" font-size="9.3" fill="#000" text-anchor="start" font-weight="normal" >80</text><text textLength="10.33" transform="translate(1631,851) scale(1,1.08)" font-size="9.3" fill="#000" text-anchor="start" font-weight="normal" >50</text><text textLength="10.33" transform="translate(1631,907) scale(1,1.08)" font-size="9.3" fill="#000" text-anchor="start" font-weight="normal" >15</text><text textLength="5.16" transform="translate(1631,924) scale(1,1.08)" font-size="9.3" fill="#000" text-anchor="start" font-weight="normal" >0</text><rect x="1629" y="305" width="41" height="11" fill="#ff0000"/><text textLength="33.54" transform="translate(1633,314.0) scale(1,1.08)" font-size="9.3" fill="#fff" text-anchor="start" font-weight="normal" >26935.8</text><rect x="1629" y="329" width="41" height="11" fill="#ff0000"/><text textLength="33.54" transform="translate(1633,338.0) scale(1,1.08)" font-size="9.3" fill="#fff" text-anchor="start" font-weight="normal" >26736.3</text><rect x="1629" y="355" width="41" height="11" fill="#000"/><text textLength="33.54" transform="translate(1633,364.0) scale(1,1.08)" font-size="9.3" fill="#fff" text-anchor="start" font-weight="normal" >26526.5</text><rect x="1629" y="368" width="41" height="11" fill="#32cd32"/><text textLength="33.54" transform="translate(1633,377.0) scale(1,1.08)" font-size="9.3" fill="#fff" text-anchor="start" font-weight="normal" >26412.2</text><rect x="1629" y="395" width="41" height="11" fill="#0000ff"/><text textLength="33.54" transform="translate(1633,404.0) scale(1,1.08)" font-size="9.3" fill="#fff" text-anchor="start" font-weight="normal" >26187.8</text><rect x="1629" y="413" width="41" height="11" fill="#0000ff"/><text textLength="33.54" transform="translate(1633,422.0) scale(1,1.08)" font-size="9.3" fill="#fff" text-anchor="start" font-weight="normal" >26038.2</text><text textLength="51.09" transform="translate(-3,940) scale(1,1.08)" font-size="9.3" fill="#000" text-anchor="start" font-weight="normal" >19 Jun 2019</text><text textLength="53.66" transform="translate(62,940) scale(1,1.08)" font-size="9.3" fill="#000" text-anchor="start" font-weight="normal" >25 Jun 01:15</text><text textLength="45.40" transform="translate(126,940) scale(1,1.08)" font-size="9.3" fill="#000" text-anchor="start" font-weight="normal" >2 Jul 01:15</text><text textLength="45.40" transform="translate(190,940) scale(1,1.08)" font-size="9.3" fill="#000" text-anchor="start" font-weight="normal" >8 Jul 01:15</text><text textLength="50.56" transform="translate(254,940) scale(1,1.08)" font-size="9.3" fill="#000" text-anchor="start" font-weight="normal" >12 Jul 01:15</text><text textLength="50.56" transform="translate(318,940) scale(1,1.08)" font-size="9.3" fill="#000" text-anchor="start" font-weight="normal" >18 Jul 01:15</text><text textLength="50.56" transform="translate(382,940) scale(1,1.08)" font-size="9.3" fill="#000" text-anchor="start" font-weight="normal" >24 Jul 01:15</text><text textLength="50.56" transform="translate(446,940) scale(1,1.08)" font-size="9.3" fill="#000" text-anchor="start" font-weight="normal" >30 Jul 01:15</text><text textLength="49.54" transform="translate(510,940) scale(1,1.08)" font-size="9.3" fill="#000" text-anchor="start" font-weight="normal" >5 Aug 01:15</text><text textLength="49.54" transform="translate(574,940) scale(1,1.08)" font-size="9.3" fill="#000" text-anchor="start" font-weight="normal" >9 Aug 01:15</text><text textLength="54.69" transform="translate(638,940) scale(1,1.08)" font-size="9.3" fill="#000" text-anchor="start" font-weight="normal" >15 Aug 01:15</text><text textLength="54.69" transform="translate(702,940) scale(1,1.08)" font-size="9.3" fill="#000" text-anchor="start" font-weight="normal" >21 Aug 01:15</text><text textLength="54.69" transform="translate(766,940) scale(1,1.08)" font-size="9.3" fill="#000" text-anchor="start" font-weight="normal" >27 Aug 01:15</text><text textLength="50.05" transform="translate(830,940) scale(1,1.08)" font-size="9.3" fill="#000" text-anchor="start" font-weight="normal" >2 Sep 01:15</text><text textLength="50.05" transform="translate(894,940) scale(1,1.08)" font-size="9.3" fill="#000" text-anchor="start" font-weight="normal" >6 Sep 01:15</text><text textLength="55.20" transform="translate(958,940) scale(1,1.08)" font-size="9.3" fill="#000" text-anchor="start" font-weight="normal" >12 Sep 01:15</text><text textLength="55.20" transform="translate(1022,940) scale(1,1.08)" font-size="9.3" fill="#000" text-anchor="start" font-weight="normal" >18 Sep 01:15</text><text textLength="55.20" transform="translate(1086,940) scale(1,1.08)" font-size="9.3" fill="#000" text-anchor="start" font-weight="normal" >24 Sep 01:15</text><text textLength="55.20" transform="translate(1150,940) scale(1,1.08)" font-size="9.3" fill="#000" text-anchor="start" font-weight="normal" >30 Sep 01:15</text><text textLength="47.98" transform="translate(1214,940) scale(1,1.08)" font-size="9.3" fill="#000" text-anchor="start" font-weight="normal" >8 Oct 01:15</text><text textLength="53.13" transform="translate(1278,940) scale(1,1.08)" font-size="9.3" fill="#000" text-anchor="start" font-weight="normal" >14 Oct 01:15</text><rect x="0" y="28" width="203" height="19" fill="#fff"/><text textLength="187.78" transform="translate(14,39.6) scale(1,1.08)" font-size="9.3" fill="#000" text-anchor="start" font-weight="normal" >HK50-,H4&#160;&#160;26586.0 26602.5 26481.5 26526.5</text><polygon points="2,38 10,38 6,33.5" fill="#000"/><text textLength="124.31" transform="translate(4,595.5) scale(1,1.08)" font-size="9.3" fill="#000" text-anchor="start" font-weight="normal" >MACD(12,26,9) 24.42 -101.85</text><text textLength="68.08" transform="translate(4,780.5) scale(1,1.08)" font-size="9.3" fill="#000" text-anchor="start" font-weight="normal" >RSI(14) 61.1882</text><rect x="1474.5" y="358.5" width="99" height="32" fill="#fff" stroke="#ff0000" stroke-width="1"/><text textLength="97.98" transform="translate(1524,384.2) scale(1,1)" font-size="27.7" fill="#ff0000" text-anchor="middle" font-weight="normal" letter-spacing="-0.3">26412.2</text><rect x="1464" y="374" width="7" height="1" fill="#ff0000"/><rect x="1471.5" y="372.5" width="2" height="3" fill="#fff" stroke="#ff0000" stroke-width="1"/><text x="1379.6" y="471.8" font-size="32" fill="#0a300a" textLength="160" font-family="'Liberation Sans', 'Noto Sans CJK SC', sans-serif">多空转折点</text><text x="1378.5" y="470.7" font-size="32" fill="#00ff00" textLength="160" font-family="'Liberation Sans', 'Noto Sans CJK SC', sans-serif">多空转折点</text></g></svg>
<div id="tb"><div class="g1"></div><div class="g2"></div><div class="g3"></div><svg width="1674" height="25" viewBox="0 0 1674 25" style="position:absolute;left:0;top:0"><defs><linearGradient id="gp" x1="0" y1="0" x2="0" y2="1"><stop offset="0" stop-color="#6dff6d"/><stop offset="0.5" stop-color="#18e018"/><stop offset="1" stop-color="#05a805"/></linearGradient><linearGradient id="gold" x1="0" y1="0" x2="1" y2="1"><stop offset="0" stop-color="#f8e060"/><stop offset="0.5" stop-color="#e8b418"/><stop offset="1" stop-color="#b87810"/></linearGradient><linearGradient id="blu" x1="0" y1="0" x2="0" y2="1"><stop offset="0" stop-color="#3aa0f8"/><stop offset="1" stop-color="#0a58c8"/></linearGradient><radialGradient id="lens" cx="0.4" cy="0.35" r="0.7"><stop offset="0" stop-color="#ffffff"/><stop offset="1" stop-color="#c4e6fb"/></radialGradient><linearGradient id="grn" x1="0" y1="0" x2="0" y2="1"><stop offset="0" stop-color="#48b030"/><stop offset="1" stop-color="#208a10"/></linearGradient><linearGradient id="bl2" x1="0" y1="0" x2="0" y2="1"><stop offset="0" stop-color="#3068e8"/><stop offset="1" stop-color="#1038b0"/></linearGradient><linearGradient id="bub" x1="0" y1="0" x2="0" y2="1"><stop offset="0" stop-color="#ffffff"/><stop offset="0.6" stop-color="#ececf2"/><stop offset="1" stop-color="#d4d4e0"/></linearGradient></defs><path d="M-1,3.5H6.5l3,3V16.5H-1z" fill="#fff" stroke="#8c8c8c" stroke-width="1"/><path d="M6.5,3.5v3h3" fill="#e4e4e4" stroke="#8c8c8c" stroke-width="0.8"/><path d="M0,6.5H4.5M0,8.5H7M0,10.5H4" stroke="#a0a0a0" stroke-width="1"/><path d="M6.4,9.7h3.2v3.7h3.9v3.2h-3.9v3.7h-3.2v-3.7h-3.9v-3.2h3.9z" fill="url(#gp)" stroke="#078a07" stroke-width="0.9" stroke-linejoin="miter"/><text x="16.8" y="14.2" font-size="12" fill="#000" textLength="36" font-family="'Liberation Sans', 'Noto Sans CJK SC', sans-serif">新订单</text><path d="M65.2,12.8L74,18.9L81,12.5V14L74,20.2L65.2,14.2z" fill="#a86c10" stroke="#8a5808" stroke-width="0.6"/><path d="M66,13.6L74,19.1L80.4,13.3" fill="none" stroke="#f0dca0" stroke-width="0.7"/><path d="M70.2,4.2L81,12.3L74,18.4L65.2,12.8z" fill="url(#gold)" stroke="#b07c10" stroke-width="0.8"/><path d="M70.3,5.2L67,12.4" stroke="#fff0a0" stroke-width="1" opacity="0.7"/><path d="M96,4.5l4,-1.5l6,1v9h-10z" fill="url(#blu)"/><path d="M100,3.2v9.8" stroke="#bfe0ff" stroke-width="0.8"/><rect x="101.5" y="6" width="3.5" height="1.2" fill="#d8efff"/><path d="M95.5,18.5a2.7,2.7 0 0 1 0.3,-5.3a3.4,3.4 0 0 1 6.2,-1a2.6,2.6 0 0 1 3.8,1.6a2.4,2.4 0 0 1 0.4,4.7z" fill="#e8f0fb" stroke="#5f86c4" stroke-width="0.9"/><g fill="none" stroke-width="1.3"><circle cx="129" cy="10.7" r="7.3" stroke="#9db6e8"/><circle cx="129" cy="10.7" r="4.8" stroke="#5f86e0"/><circle cx="129" cy="10.7" r="2.3" stroke="#2a5ad8"/></g><path d="M129,10.7L131.8,3.2A8,8 0 0 1 129,18.7z" fill="#58b058" opacity="0.62"/><circle cx="128.8" cy="10.5" r="1.5" fill="#2a50d0"/><path d="M129.3,11V18.6" stroke="#18a018" stroke-width="1.5"/><path d="M148.8,10.8L163.6,10.5L155.6,19.2z" fill="#f6dc50" stroke="#c8a020" stroke-width="0.8"/><ellipse cx="156" cy="8.9" rx="8" ry="2.7" fill="#62aee4" stroke="#3a86c6" stroke-width="0.8"/><path d="M152.2,8.6C152,5 153.8,3 156,3S160,5 159.8,8.6C158.6,9.4 153.4,9.4 152.2,8.6z" fill="#86c8f2" stroke="#3a86c6" stroke-width="0.8"/><circle cx="160.5" cy="14.8" r="4" fill="#e02810" stroke="#b01808" stroke-width="0.6"/><rect x="159" y="13.3" width="3" height="3" fill="#fff"/><text x="168.8" y="14.2" font-size="12" fill="#000" textLength="48" font-family="'Liberation Sans', 'Noto Sans CJK SC', sans-serif">自动交易</text><rect x="224" y="0" width="1" height="22" fill="#8c8c8c" shape-rendering="crispEdges"/><rect x="228" y="1" width="3" height="1" fill="#a8a8a8" shape-rendering="crispEdges"/><rect x="228" y="3" width="3" height="1" fill="#a8a8a8" shape-rendering="crispEdges"/><rect x="228" y="5" width="3" height="1" fill="#a8a8a8" shape-rendering="crispEdges"/><rect x="228" y="7" width="3" height="1" fill="#a8a8a8" shape-rendering="crispEdges"/><rect x="228" y="9" width="3" height="1" fill="#a8a8a8" shape-rendering="crispEdges"/><rect x="228" y="11" width="3" height="1" fill="#a8a8a8" shape-rendering="crispEdges"/><rect x="228" y="13" width="3" height="1" fill="#a8a8a8" shape-rendering="crispEdges"/><rect x="228" y="15" width="3" height="1" fill="#a8a8a8" shape-rendering="crispEdges"/><rect x="228" y="17" width="3" height="1" fill="#a8a8a8" shape-rendering="crispEdges"/><rect x="228" y="19" width="3" height="1" fill="#a8a8a8" shape-rendering="crispEdges"/><g stroke="#555" stroke-width="1.1" fill="none"><path d="M242.5,5.5V19M239.5,16.5H253"/></g><polygon points="242.5,4.5 240.5,7.5 244.5,7.5" fill="#555"/><polygon points="254.5,16.5 251.5,14.5 251.5,18.5" fill="#555"/><path d="M246,13.5h3v-6.5h2.5" fill="none" stroke="#10a010" stroke-width="1.6"/><rect x="262" y="0" width="1" height="21" fill="#8c8c8c" shape-rendering="crispEdges"/><rect x="263" y="0" width="24" height="21" fill="#f9f9f9"/><g stroke="#555" stroke-width="1.1" fill="none"><path d="M270.5,5.5V19M267.5,16.5H281"/></g><polygon points="270.5,4.5 268.5,7.5 272.5,7.5" fill="#555"/><polygon points="282.5,16.5 279.5,14.5 279.5,18.5" fill="#555"/><path d="M276.5,3V15" stroke="#0a8a0a" stroke-width="1.2"/><rect x="274.3" y="5.5" width="4.5" height="7.2" fill="#30e030" stroke="#0a8a0a" stroke-width="0.9"/><g stroke="#555" stroke-width="1.1" fill="none"><path d="M298.5,5.5V19M295.5,16.5H309"/></g><polygon points="298.5,4.5 296.5,7.5 300.5,7.5" fill="#555"/><polygon points="310.5,16.5 307.5,14.5 307.5,18.5" fill="#555"/><path d="M297.3,13.7C300,11 301.5,8.3 303.2,8.3S306,11 308.6,12.4" fill="none" stroke="#20a020" stroke-width="1.3"/><rect x="319" y="0" width="1" height="21" fill="#8c8c8c" shape-rendering="crispEdges"/><path d="M337.6,13.2L343,17.8" stroke="#c89818" stroke-width="3.2" stroke-linecap="round"/><path d="M338.2,13.2L343,17.3" stroke="#f4d850" stroke-width="1.2" stroke-linecap="round"/><circle cx="334" cy="9" r="5.6" fill="url(#lens)" stroke="#2f7fd0" stroke-width="1.3"/><path d="M331,9H337" stroke="#3f8ab8" stroke-width="1.6"/><path d="M334,6V12" stroke="#3f8ab8" stroke-width="1.6"/><path d="M365.6,13.2L371,17.8" stroke="#c89818" stroke-width="3.2" stroke-linecap="round"/><path d="M366.2,13.2L371,17.3" stroke="#f4d850" stroke-width="1.2" stroke-linecap="round"/><circle cx="362" cy="9" r="5.6" fill="url(#lens)" stroke="#2f7fd0" stroke-width="1.3"/><path d="M359,9H365" stroke="#3f8ab8" stroke-width="1.6"/><rect x="384" y="3" width="8" height="8" fill="url(#grn)"/><rect x="385.3" y="6" width="5.4" height="3.6" fill="#fff" opacity="0.92"/><rect x="386.2" y="7.2" width="3.6" height="0.9" fill="url(#grn)" opacity="0.6"/><rect x="385.3" y="4.2" width="1" height="1" fill="#fff" opacity="0.8"/><rect x="392" y="3" width="8" height="8" fill="url(#bl2)"/><rect x="393.3" y="6" width="5.4" height="3.6" fill="#fff" opacity="0.92"/><rect x="394.2" y="7.2" width="3.6" height="0.9" fill="url(#bl2)" opacity="0.6"/><rect x="393.3" y="4.2" width="1" height="1" fill="#fff" opacity="0.8"/><rect x="384" y="11" width="8" height="8" fill="url(#bl2)"/><rect x="385.3" y="14" width="5.4" height="3.6" fill="#fff" opacity="0.92"/><rect x="386.2" y="15.2" width="3.6" height="0.9" fill="url(#bl2)" opacity="0.6"/><rect x="385.3" y="12.2" width="1" height="1" fill="#fff" opacity="0.8"/><rect x="392" y="11" width="8" height="8" fill="url(#grn)"/><rect x="393.3" y="14" width="5.4" height="3.6" fill="#fff" opacity="0.92"/><rect x="394.2" y="15.2" width="3.6" height="0.9" fill="url(#grn)" opacity="0.6"/><rect x="393.3" y="12.2" width="1" height="1" fill="#fff" opacity="0.8"/><rect x="409" y="0" width="1" height="21" fill="#8c8c8c" shape-rendering="crispEdges"/><rect x="414" y="0" width="1" height="21" fill="#a0a0a0" shape-rendering="crispEdges"/><rect x="415" y="0" width="24" height="21" fill="#f9f9f9"/><g stroke="#555" stroke-width="1.1" fill="none"><path d="M422.5,5.5V19M419.5,16.5H433"/></g><polygon points="422.5,4.5 420.5,7.5 424.5,7.5" fill="#555"/><polygon points="434.5,16.5 431.5,14.5 431.5,18.5" fill="#555"/><polygon points="427,7 427,13.8 431.2,10.4" fill="#7de87d" stroke="#0f9a0f" stroke-width="1"/><rect x="442" y="0" width="1" height="21" fill="#a0a0a0" shape-rendering="crispEdges"/><rect x="443" y="0" width="24" height="21" fill="#f9f9f9"/><g stroke="#555" stroke-width="1.1" fill="none"><path d="M450.5,5.5V19M447.5,16.5H461"/></g><polygon points="450.5,4.5 448.5,7.5 452.5,7.5" fill="#555"/><polygon points="462.5,16.5 459.5,14.5 459.5,18.5" fill="#555"/><path d="M456.5,5V14.8" stroke="#1f7fb0" stroke-width="1.3"/><path d="M462,10.4H458" stroke="#d04808" stroke-width="1.2"/><polygon points="457.2,10.4 460.5,8 460.5,12.8" fill="#d04808"/><rect x="471" y="0" width="1" height="21" fill="#8c8c8c" shape-rendering="crispEdges"/><path d="M481.5,3.5H489l3.5,3.5V16.5H481.5z" fill="#fff" stroke="#9a9a9a" stroke-width="1"/><path d="M486.5,6c-1.6,-0.6 -2.3,0.4 -2.3,1.6V13M483,9h3" stroke="#6a6040" stroke-width="0.9" fill="none"/><path d="M489.4,9.7h3.2v3.7h3.9v3.2h-3.9v3.7h-3.2v-3.7h-3.9v-3.2h3.9z" fill="url(#gp)" stroke="#078a07" stroke-width="0.9" stroke-linejoin="miter"/><polygon points="502.7,10.0 508.3,10.0 505.5,13.1" fill="#000"/><circle cx="527" cy="10.7" r="7" fill="#fff" stroke="url(#blu)" stroke-width="2.4"/><path d="M526.6,6.5V11h3" fill="none" stroke="#222" stroke-width="1.2"/><polygon points="541.7,10.0 547.3,10.0 544.5,13.1" fill="#000"/><rect x="558.3" y="4.5" width="15.6" height="13.3" fill="#fff" stroke="#3572c4" stroke-width="1.1"/><rect x="558.8" y="5" width="14.6" height="1.6" fill="#6aa4ec"/><path d="M558.5,12.2h15" stroke="#3572c4" stroke-width="0.8"/><path d="M560.3,10.3l1.8,0l1.8,-1.3l1.5,0.6l1.6,-1l2,0.6l2.6,-1" fill="none" stroke="#a02808" stroke-width="1.2"/><path d="M561,15.5l1.8,-0.4l1.8,-0.6l1.6,0.6l2,-1.8l1.4,0.4l1.8,1.8" fill="none" stroke="#10a030" stroke-width="1.2"/><polygon points="580.6,10.0 586.1999999999999,10.0 583.4,13.1" fill="#000"/><rect x="592" y="0" width="1" height="22" fill="#8c8c8c" shape-rendering="crispEdges"/><rect x="596" y="1" width="3" height="1" fill="#a8a8a8" shape-rendering="crispEdges"/><rect x="596" y="3" width="3" height="1" fill="#a8a8a8" shape-rendering="crispEdges"/><rect x="596" y="5" width="3" height="1" fill="#a8a8a8" shape-rendering="crispEdges"/><rect x="596" y="7" width="3" height="1" fill="#a8a8a8" shape-rendering="crispEdges"/><rect x="596" y="9" width="3" height="1" fill="#a8a8a8" shape-rendering="crispEdges"/><rect x="596" y="11" width="3" height="1" fill="#a8a8a8" shape-rendering="crispEdges"/><rect x="596" y="13" width="3" height="1" fill="#a8a8a8" shape-rendering="crispEdges"/><rect x="596" y="15" width="3" height="1" fill="#a8a8a8" shape-rendering="crispEdges"/><rect x="596" y="17" width="3" height="1" fill="#a8a8a8" shape-rendering="crispEdges"/><rect x="596" y="19" width="3" height="1" fill="#a8a8a8" shape-rendering="crispEdges"/><rect x="602" y="0" width="1" height="21" fill="#a0a0a0" shape-rendering="crispEdges"/><rect x="603" y="0" width="24" height="21" fill="#f9f9f9"/><path d="M610,4V15.2L613,12.6L615.6,18.1L617,17.4L614.4,12.2L618.2,11.9z" fill="#505050"/><path d="M642.5,4V10M642.5,13V19M635,11.5H641M644,11.5H650" stroke="#555" stroke-width="1.2"/><rect x="659" y="0" width="1" height="21" fill="#8c8c8c" shape-rendering="crispEdges"/><path d="M676.5,5V18" stroke="#555" stroke-width="1.2"/><path d="M699,11.5H711" stroke="#555" stroke-width="1.2"/><path d="M726.7,17.7L738.8,6" stroke="#555" stroke-width="1.2"/><g stroke="#555" stroke-width="1" fill="none"><path d="M752.8,12.4L760.8,5M754.8,17.4L766.8,9M753.8,15L764,7"/><path d="M756,10l-1,6M759,8l-1,6M762,5l-1,6M764.5,3.5l-0.5,6" stroke-width="0.8"/></g><text textLength="4.34" x="763.6" y="19.8" font-family="Liberation Sans, sans-serif" font-weight="bold" font-size="6.5" fill="#333">E</text><path d="M782,4.5H795" stroke="#555" stroke-width="1" stroke-dasharray="1 1"/><path d="M782,7.5H795" stroke="#555" stroke-width="1" stroke-dasharray="1 1"/><path d="M782,11.5H795" stroke="#555" stroke-width="1" stroke-dasharray="1 1"/><path d="M782,15.7H791" stroke="#555" stroke-width="1" stroke-dasharray="1 1"/><text textLength="3.98" x="792" y="19.8" font-family="Liberation Sans, sans-serif" font-weight="bold" font-size="6.5" fill="#333">F</text><text textLength="9.03" x="812.4" y="16" font-family="Liberation Sans, sans-serif" font-weight="bold" font-size="12.5" fill="#555">A</text><rect x="839.5" y="5.5" width="11" height="12" fill="none" stroke="#555" stroke-width="1" stroke-dasharray="1 1"/><text textLength="6.73" x="841" y="15.7" font-family="Liberation Sans, sans-serif" font-weight="bold" font-size="11" fill="#555">T</text><polygon points="869.5,5 866,8.5 873,8.5" fill="#555"/><rect x="867.5" y="8" width="4" height="1.2" fill="#555"/><polygon points="876.5,17.7 873,14 880,14" fill="#555"/><rect x="874.5" y="13" width="4" height="1.3" fill="#555"/><path d="M867.8,12.6l2.8,1.8l4.3,-5" fill="none" stroke="#555" stroke-width="1.3"/><polygon points="886.7,10.0 892.3,10.0 889.5,13.1" fill="#000"/><rect x="898" y="0" width="1" height="22" fill="#8c8c8c" shape-rendering="crispEdges"/><rect x="902" y="1" width="3" height="1" fill="#a8a8a8" shape-rendering="crispEdges"/><rect x="902" y="3" width="3" height="1" fill="#a8a8a8" shape-rendering="crispEdges"/><rect x="902" y="5" width="3" height="1" fill="#a8a8a8" shape-rendering="crispEdges"/><rect x="902" y="7" width="3" height="1" fill="#a8a8a8" shape-rendering="crispEdges"/><rect x="902" y="9" width="3" height="1" fill="#a8a8a8" shape-rendering="crispEdges"/><rect x="902" y="11" width="3" height="1" fill="#a8a8a8" shape-rendering="crispEdges"/><rect x="902" y="13" width="3" height="1" fill="#a8a8a8" shape-rendering="crispEdges"/><rect x="902" y="15" width="3" height="1" fill="#a8a8a8" shape-rendering="crispEdges"/><rect x="902" y="17" width="3" height="1" fill="#a8a8a8" shape-rendering="crispEdges"/><rect x="902" y="19" width="3" height="1" fill="#a8a8a8" shape-rendering="crispEdges"/><rect x="1048" y="0" width="1" height="21" fill="#a0a0a0" shape-rendering="crispEdges"/><rect x="1049" y="0" width="25" height="21" fill="#f9f9f9"/><text textLength="12.77" x="920" y="14.8" text-anchor="middle" font-family="Liberation Sans, sans-serif" font-size="9.2" fill="#4a4a4a">M1</text><text textLength="12.77" x="948" y="14.8" text-anchor="middle" font-family="Liberation Sans, sans-serif" font-size="9.2" fill="#4a4a4a">M5</text><text textLength="17.88" x="976" y="14.8" text-anchor="middle" font-family="Liberation Sans, sans-serif" font-size="9.2" fill="#4a4a4a">M15</text><text textLength="17.88" x="1004" y="14.8" text-anchor="middle" font-family="Liberation Sans, sans-serif" font-size="9.2" fill="#4a4a4a">M30</text><text textLength="11.75" x="1032" y="14.8" text-anchor="middle" font-family="Liberation Sans, sans-serif" font-size="9.2" fill="#4a4a4a">H1</text><text textLength="11.75" x="1060" y="14.8" text-anchor="middle" font-family="Liberation Sans, sans-serif" font-size="9.2" fill="#4a4a4a">H4</text><text textLength="11.75" x="1088" y="14.8" text-anchor="middle" font-family="Liberation Sans, sans-serif" font-size="9.2" fill="#4a4a4a">D1</text><text textLength="13.78" x="1116" y="14.8" text-anchor="middle" font-family="Liberation Sans, sans-serif" font-size="9.2" fill="#4a4a4a">W1</text><text textLength="14.30" x="1144" y="14.8" text-anchor="middle" font-family="Liberation Sans, sans-serif" font-size="9.2" fill="#4a4a4a">MN</text><rect x="1159" y="0" width="1" height="22" fill="#8c8c8c" shape-rendering="crispEdges"/><path d="M1626.3,11.6L1622,16" stroke="#2f62d8" stroke-width="2.6" stroke-linecap="round"/><circle cx="1629.6" cy="8.3" r="3.7" fill="#f4f4f4" stroke="#2456d6" stroke-width="1.1"/><path d="M1662,3.3c3.7,0 6.7,2.1 6.7,4.7c0,1.6 -1.1,3 -2.8,3.8l0.3,2.2l-2.2,-1.5c-0.6,0.1 -1.3,0.2 -2,0.2c-3.7,0 -6.7,-2.1 -6.7,-4.7s3,-4.7 6.7,-4.7z" fill="url(#bub)" stroke="#9a9a9a" stroke-width="0.9"/><path d="M1653.3,8.7c2.8,0 5,1.7 5,3.7s-2.2,3.7 -5,3.7c-0.6,0 -1.2,-0.1 -1.7,-0.2l-2,1.6l0.3,-2.3c-1,-0.7 -1.6,-1.7 -1.6,-2.8c0,-2 2.2,-3.7 5,-3.7z" fill="url(#bub)" stroke="#9a9a9a" stroke-width="0.9"/></svg></div>
<div id="rb"></div>
<style>
#oc{position:absolute;left:0;top:0;width:230px;height:115px;font-family:"Liberation Sans",sans-serif;color:#fff}
#oc div{position:absolute;box-sizing:border-box}
#oc .tab{top:47px;height:25px;width:52px;border:1px solid #c41414;border-bottom:none;background:linear-gradient(#f85252,#e63a3a);text-align:center;font-size:11px;line-height:21px;padding-top:0;letter-spacing:-0.2px}
#oc .blk{top:71px;height:40px;width:109px;border:1px solid #b80808;border-top:none;background:linear-gradient(#e23434 0%,#cc1c1c 45%,#b20202 100%)}
#oc .ul{height:2px;width:45px;top:70px;background:linear-gradient(#b01010 50%,#f47070 50%)}
#oc .sm{font-weight:bold;font-size:12px;line-height:12px;top:92px;letter-spacing:0.2px}
#oc .bg{font-size:33px;line-height:33px;top:73px;letter-spacing:-1px}
#oc .vol{left:56px;top:47px;width:111px;height:22px;border:1px solid #a7adb4;background:#fff}
#oc .vb{top:48px;height:20px;width:21px;background:#e9e9e9}
#oc .vt{left:77px;top:48px;width:66px;height:20px;color:#000;font-size:11.5px;line-height:19px;text-align:right;padding-right:3px;border-left:1px solid #a7adb4;border-right:1px solid #a7adb4;width:68px}
</style>
<div id="oc">
<div style="left:2px;top:47px;width:219px;height:64px;background:#fff"></div><div class="blk" style="left:2px"></div><div class="blk" style="left:113px;width:108px"></div>
<div class="tab" style="left:2px"></div><div class="tab" style="left:169px;width:52px"></div>
<div style="left:54px;top:69px;width:57px;height:3px;background:#fff"></div><div style="left:111px;top:69px;width:58px;height:3px;background:#fff"></div>
<div style="left:54px;top:71px;width:57px;height:1px;background:#c41414"></div><div style="left:113px;top:71px;width:56px;height:1px;background:#c41414"></div>
<div class="ul" style="left:6px"></div><div class="ul" style="left:173px"></div>


<div class="vol"></div><div class="vb" style="left:57px"></div><div class="vb" style="left:145px"></div><div class="vt"></div>
<svg style="position:absolute;left:0;top:0" width="230" height="115"><g font-family="Liberation Sans, sans-serif" fill="#fff"><text textLength="26.92" x="28" y="62.3" font-size="11" text-anchor="middle">SELL</text><text textLength="22.62" x="195" y="62.3" font-size="11" text-anchor="middle">BUY</text><text textLength="34.38" x="18" y="102" font-size="12" font-weight="bold" letter-spacing="0.2">26525</text><text textLength="34.38" x="128" y="102" font-size="12" font-weight="bold" letter-spacing="0.2">26538</text><text textLength="25.53" x="55.5" y="102.3" font-size="33" letter-spacing="-1">.0</text><text textLength="25.53" x="166.5" y="102.3" font-size="33" letter-spacing="-1">.0</text><text textLength="22.39" x="141.5" y="62" font-size="11.5" fill="#000" text-anchor="end">1.00</text></g><polygon points="63.5,56 69.5,56 66.5,59.5" fill="#000"/><polygon points="152.5,58.5 158.5,58.5 155.5,55.5" fill="#000"/></svg>
</div>

</body></html>
